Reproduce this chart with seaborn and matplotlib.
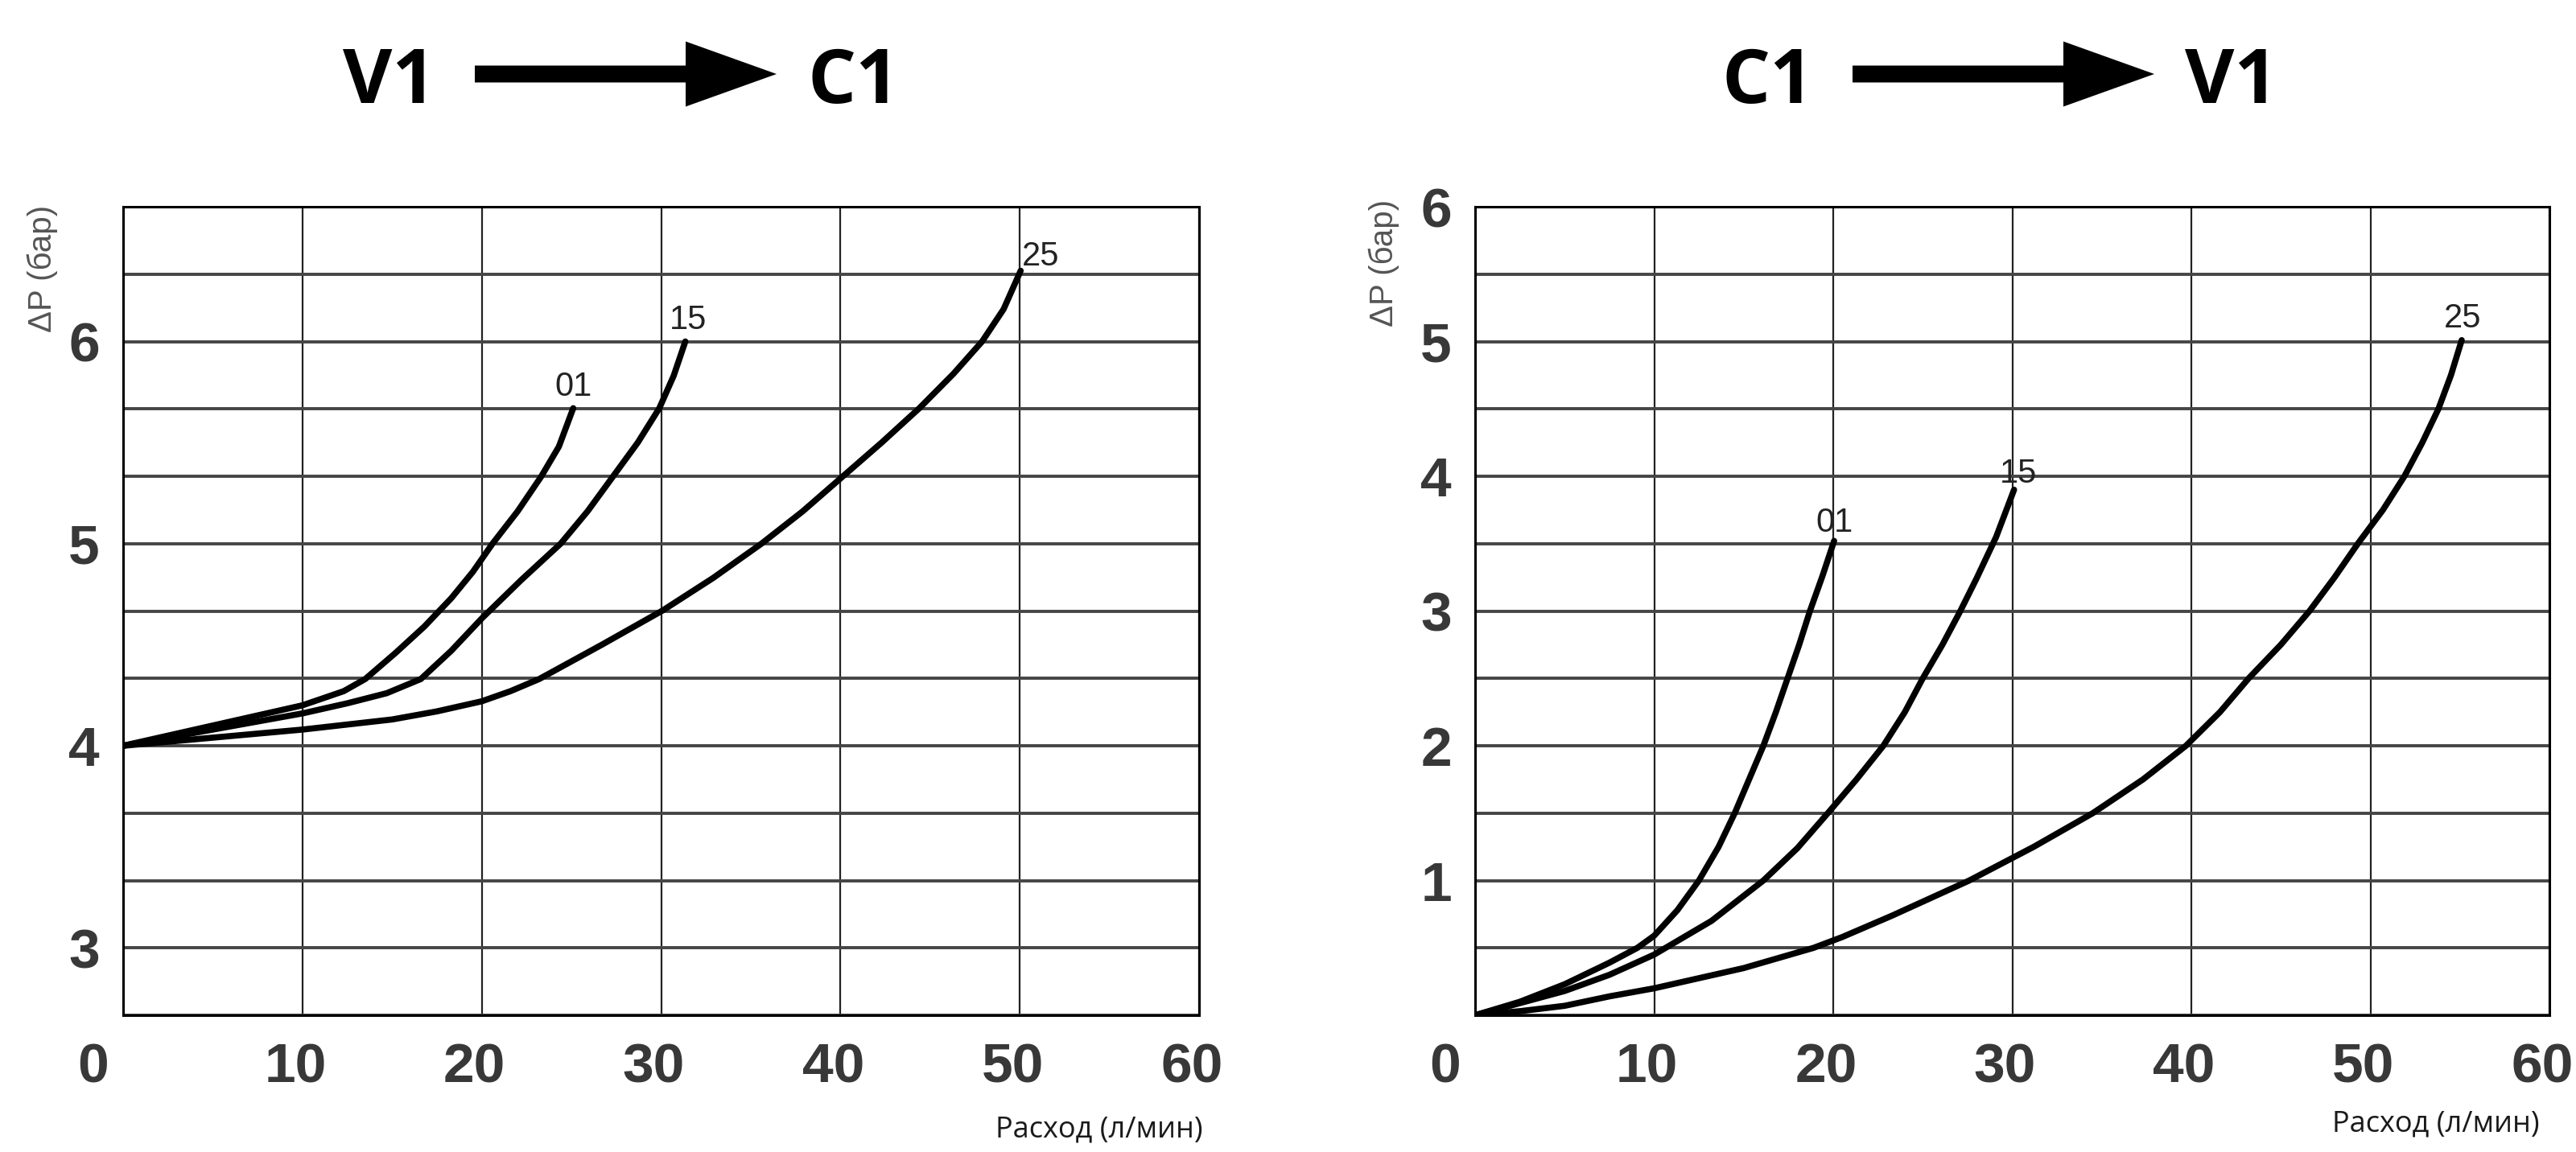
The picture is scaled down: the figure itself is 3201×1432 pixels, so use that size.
import numpy as np
import pandas as pd
import matplotlib
matplotlib.use("Agg")
import matplotlib.pyplot as plt
import matplotlib.transforms as mtransforms
import seaborn as sns
from matplotlib.patches import FancyArrow

# Расход (л/мин) и перепад давления (бар)
# V1 -> C1
flow_01_v1c1 = [0, 5, 10, 12.3, 13.5, 15.2, 16.8, 18.3, 19.5, 20.6, 22.0, 23.3, 24.3, 25.1]
dp_01_v1c1 = [4.0, 4.10, 4.20, 4.27, 4.33, 4.46, 4.59, 4.73, 4.86, 5.0, 5.16, 5.33, 5.48, 5.67]
flow_15_v1c1 = [0, 5, 10, 12.5, 14.7, 16.6, 18.3, 20.0, 22.2, 24.4, 25.9, 27.3, 28.7, 29.9, 30.7, 31.35]
dp_15_v1c1 = [4.0, 4.08, 4.16, 4.21, 4.26, 4.33, 4.47, 4.63, 4.82, 5.0, 5.16, 5.33, 5.50, 5.67, 5.83, 6.0]
flow_25_v1c1 = [0, 5, 10, 15, 17.5, 20, 21.6, 23.2, 26.7, 30.1, 32.9, 35.6, 37.9, 40.1,
                42.3, 44.4, 46.3, 47.9, 49.1, 50.05]
dp_25_v1c1 = [4.0, 4.04, 4.08, 4.13, 4.17, 4.22, 4.27, 4.33, 4.50, 4.67, 4.83, 5.0, 5.16, 5.33,
              5.50, 5.67, 5.84, 6.0, 6.16, 6.35]

# C1 -> V1
flow_01_c1v1 = [0, 2.5, 5, 7.5, 9.06, 10, 11.3, 12.5, 13.6, 14.5, 15.3, 16.1, 16.8, 17.45,
                18.1, 18.7, 19.4, 20.05]
dp_01_c1v1 = [0, 0.10, 0.23, 0.39, 0.5, 0.59, 0.78, 1.0, 1.25, 1.5, 1.75, 2.0, 2.25, 2.5,
              2.75, 3.0, 3.26, 3.52]
flow_15_c1v1 = [0, 5, 7.5, 10, 13.2, 16.1, 18.0, 19.7, 21.3, 22.8, 24.0, 25.0, 26.1, 27.1,
                28.0, 29.1, 30.1]
dp_15_c1v1 = [0, 0.18, 0.30, 0.45, 0.70, 1.0, 1.24, 1.5, 1.75, 2.0, 2.25, 2.5, 2.75, 3.0,
              3.24, 3.55, 3.9]
flow_25_c1v1 = [0, 2.5, 5, 7.5, 10, 15, 18.9, 20.5, 23.3, 27.6, 31.2, 34.5, 37.3, 39.7,
                41.6, 43.2, 45.0, 46.6, 48.0, 49.3, 50.7, 51.9, 52.9, 53.8, 54.5, 55.1]
dp_25_c1v1 = [0, 0.03, 0.07, 0.14, 0.20, 0.35, 0.5, 0.58, 0.74, 1.0, 1.25, 1.5, 1.75, 2.0,
              2.25, 2.5, 2.75, 3.0, 3.25, 3.5, 3.75, 4.0, 4.25, 4.5, 4.75, 5.01]

curve_names = ["01", "15", "25"]
x_ticks = [0, 10, 20, 30, 40, 50, 60]
y_ticks_v1c1 = [3, 4, 5, 6]
y_ticks_c1v1 = [1, 2, 3, 4, 5, 6]

W, H = 3201, 1432

sns.set_theme(style="white")
plt.rcParams['font.family'] = ['Liberation Sans', 'DejaVu Sans']

fig = plt.figure(figsize=(W / 100, H / 100), dpi=100)
fig.patch.set_facecolor("white")

ax_l = fig.add_axes([153 / W, 1 - 1262 / H, 1337 / W, 1005 / H])
ax_r = fig.add_axes([1833 / W, 1 - 1262 / H, 1335 / W, 1005 / H])


def draw_curves(ax, flows, dps, offsets):
    for name, q, p, (dx, dy, ha) in zip(curve_names, flows, dps, offsets):
        df = pd.DataFrame({"q": q, "dp": p})
        sns.lineplot(data=df, x="q", y="dp", ax=ax, color="black", lw=5.5,
                     estimator=None, sort=False, solid_capstyle="round",
                     solid_joinstyle="round")
        ax.annotate(name, (q[-1], p[-1]), xytext=(dx, dy), textcoords="offset pixels",
                    ha=ha, va="baseline", fontsize=30, color="#222222")


def style_axes(ax, ylim, ystep, ylabels):
    ax.set_xlim(0, 60)
    ax.set_ylim(*ylim)
    ax.set_xticks(x_ticks)
    ax.set_xticklabels([str(v) for v in x_ticks])
    yt = np.arange(ylim[0], ylim[1] + 1e-6, ystep)
    ax.set_yticks(yt)
    ax.set_yticklabels([str(int(round(v))) if any(abs(v - l) < 1e-3 for l in ylabels) else "" for v in yt])
    ax.set_xlabel("")
    ax.set_ylabel("")
    ax.xaxis.grid(True, color="#222222", lw=1.6)
    ax.yaxis.grid(True, color="#454545", lw=2.8)
    ax.set_axisbelow(True)
    for s in ax.spines.values():
        s.set_visible(True)
        s.set_color("black")
        s.set_linewidth(2.2)
    ax.tick_params(axis="both", length=0, labelsize=50, labelcolor="#383838")
    ax.tick_params(axis="x", pad=24)
    ax.tick_params(axis="y", pad=21)
    for t in ax.get_xticklabels() + ax.get_yticklabels():
        t.set_fontweight("bold")
    # подписи по x чуть левее линий, ноль ещё левее
    for t in ax.get_xticklabels():
        shift = -37 if t.get_text() == "0" else -9
        t.set_transform(t.get_transform() + mtransforms.Affine2D().translate(shift, 0))


draw_curves(ax_l,
            [flow_01_v1c1, flow_15_v1c1, flow_25_v1c1],
            [dp_01_v1c1, dp_15_v1c1, dp_25_v1c1],
            [(0, 15, "center"), (3, 16, "center"), (2, 7, "left")])
style_axes(ax_l, (8 / 3, 20 / 3), 1 / 3, y_ticks_v1c1)

draw_curves(ax_r,
            [flow_01_c1v1, flow_15_c1v1, flow_25_c1v1],
            [dp_01_c1v1, dp_15_c1v1, dp_25_c1v1],
            [(0, 11, "center"), (5, 9, "center"), (1, 16, "center")])
style_axes(ax_r, (0, 6), 0.5, y_ticks_c1v1)

# подписи осей
for x0, y0 in [(53, 255), (1720, 248)]:
    fig.text(x0 / W, 1 - y0 / H, "ΔP (бар)", rotation=90, ha="center", va="top",
             fontsize=29, color="#555555")
for x0, y0 in [(1495, 1413), (3156, 1406)]:
    fig.text(x0 / W, 1 - y0 / H, "Расход (л/мин)", ha="right", va="baseline",
             fontsize=26, color="#1a1a1a", family=['Open Sans', 'DejaVu Sans'])

# заголовки со стрелками
title_font = dict(fontsize=68, fontweight="bold", color="black",
                  family=['Open Sans', 'DejaVu Sans'], ha="center", va="baseline")
for left_txt, right_txt, x_a, x_b, x_arrow in [("V1", "C1", 484, 1061, 590),
                                               ("C1", "V1", 2197, 2773, 2302)]:
    fig.text(x_a / W, 1 - 128 / H, left_txt, **title_font)
    fig.text(x_b / W, 1 - 128 / H, right_txt, **title_font)
    fig.add_artist(FancyArrow(x_arrow / W, 1 - 92 / H, 375 / W, 0,
                              width=21 / H, head_width=81 / H, head_length=113 / W,
                              length_includes_head=True, transform=fig.transFigure,
                              color="black", lw=0))

fig.savefig("out.png", dpi=100, facecolor="white")
